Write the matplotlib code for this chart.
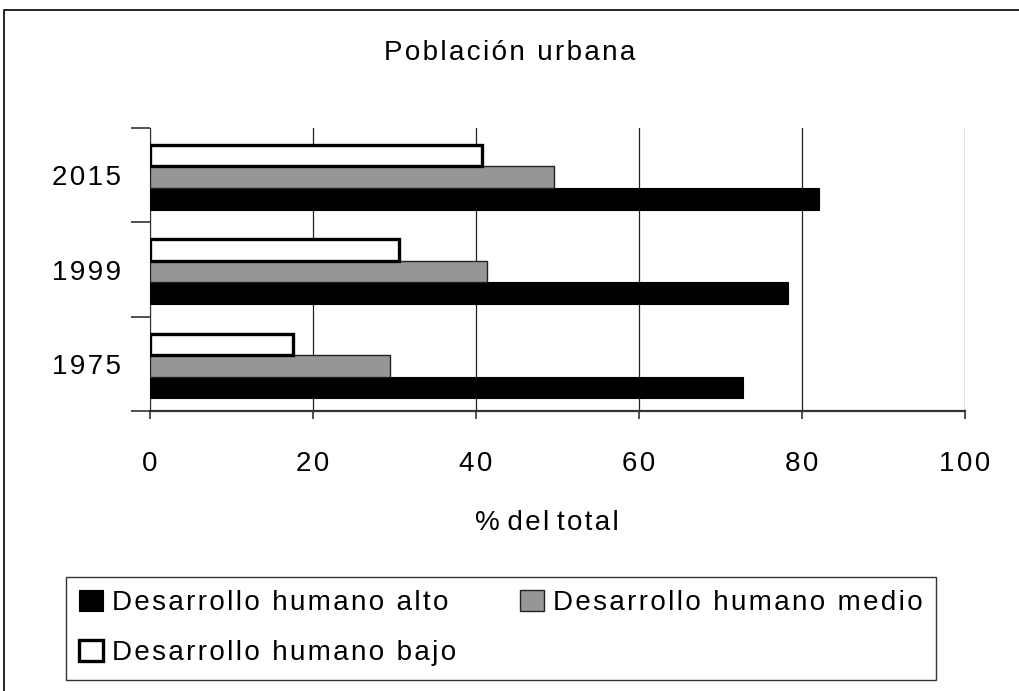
import matplotlib

matplotlib.use("Agg")
import matplotlib.pyplot as plt
import numpy as np
from matplotlib.patches import Rectangle

years = ["1975", "1999", "2015"]
alto = [72.7, 78.3, 82.1]
medio = [29.4, 41.4, 49.6]
bajo = [17.5, 30.5, 40.7]
series_labels = ["Desarrollo humano alto", "Desarrollo humano medio", "Desarrollo humano bajo"]
xticks = [0, 20, 40, 60, 80, 100]

plt.rcParams["font.family"] = ["Liberation Sans", "DejaVu Sans"]
FS = 20
HAIR = "\u200a"


def sp(s):
    # the original uses wide letter spacing; mimic it with hair spaces
    return HAIR.join(s)


def sp_words(s):
    # spacing inside words only, plain gaps between words
    return " ".join(sp(w) for w in s.split(" "))


fig = plt.figure(figsize=(10.2, 6.91), dpi=100)
ax = fig.add_axes([150 / 1020, 1 - 411 / 691, 815 / 1020, 283 / 691])

y = np.arange(len(years))
h = 0.228
b_alto = ax.barh(y - 0.25, alto, height=h, color="black", edgecolor="black", lw=0.8, zorder=3)
b_medio = ax.barh(y - 0.022, medio, height=h, color="#969696", edgecolor="#222222", lw=1.0, zorder=3)
b_bajo = ax.barh(y + 0.206, bajo, height=h, color="white", edgecolor="black", lw=2.4, zorder=4)

ax.set_xlim(0, 100)
ax.set_ylim(-0.5, 2.5)
ax.set_xticks(xticks)
ax.set_xticklabels([sp(str(t)) for t in xticks], fontsize=FS)
ax.set_yticks([-0.5, 0.5, 1.5, 2.5], minor=False)
ax.set_yticklabels([])
ax.set_yticks(y, minor=True)
ax.set_yticklabels([sp(t) for t in years], minor=True, fontsize=FS)
ax.tick_params(axis="y", which="minor", length=0, pad=21)
ax.tick_params(axis="y", which="major", length=14, width=1.2, color="#333333")
ax.tick_params(axis="x", length=6, width=1.2, color="#333333", pad=23)
ax.grid(axis="x", color="#222222", lw=0.9, zorder=0)
for s in ("top", "right"):
    ax.spines[s].set_visible(False)
ax.spines["left"].set_color("#333333")
ax.spines["bottom"].set_color("#333333")
ax.spines["bottom"].set_linewidth(1.6)
ax.set_xlabel(sp_words("% del total"), fontsize=FS)
ax.xaxis.set_label_coords(0.487, -0.35)

fig.text(0.5, 1 - 53 / 691, sp("Población urbana"), ha="center", va="center", fontsize=FS)

# outer frame of the figure
fig.patches.append(Rectangle((4 / 1020, -0.1), 1.2, 1 - 10 / 691 + 0.1,
                             transform=fig.transFigure, fill=False, ec="black", lw=1.2))

leg = fig.legend([b_alto, b_bajo, b_medio],
                 [sp(series_labels[0]), sp(series_labels[2]), sp(series_labels[1])],
                 ncol=2, loc="upper left", bbox_to_anchor=(66 / 1020, 1 - 577 / 691),
                 fontsize=FS, frameon=True, fancybox=False, edgecolor="black",
                 handlelength=0.86, handleheight=0.78, handletextpad=0.32,
                 columnspacing=2.3, labelspacing=0.85, borderpad=0.48, borderaxespad=0)
leg.get_frame().set_linewidth(1.0)

fig.savefig("out.png", dpi=100)
